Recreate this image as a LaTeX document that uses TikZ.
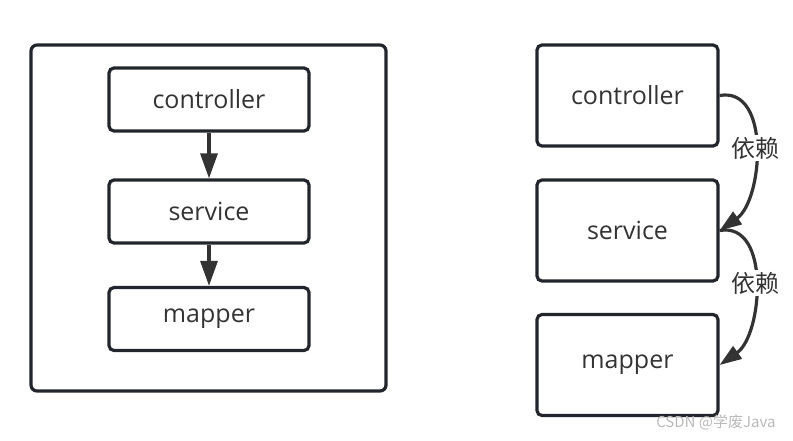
\documentclass[tikz,border=0pt]{standalone}
\usepackage{fontspec}
\setmainfont{Open Sans}
\newfontfamily\cjk{Noto Sans CJK SC}
\usetikzlibrary{arrows.meta}
\definecolor{boxcol}{HTML}{22262C}
\definecolor{txtcol}{HTML}{333333}
\begin{document}
\begin{tikzpicture}[x=1pt,y=-1pt,
	box/.style={draw=boxcol, line width=3.2pt, rounded corners=5pt, inner sep=0pt,
		text=txtcol, font=\fontsize{25}{29}\selectfont},
	smallbox/.style={box, minimum width=200pt, minimum height=63pt},
	bigbox/.style={box, minimum width=181pt, minimum height=101pt},
	flow/.style={draw=txtcol, line width=3.2pt, -{Triangle[length=25pt,width=17pt]}},
	dep/.style={draw=txtcol, line width=3.2pt, -{Triangle[length=22pt,width=15pt]}},
	lbl/.style={fill=white, inner sep=2pt, text=txtcol, font=\cjk\fontsize{24}{28}\selectfont}]
	\useasboundingbox (0,0) rectangle (793,440);
	% Layered Frame %
	\draw [boxcol, line width=3.2pt, rounded corners=6pt] (31,45) rectangle (386,391);
	\node [smallbox] (ctrlA) at (209,99.5) {controller};
	\node [smallbox] (servA) at (209,211.5) {service};
	\node [smallbox] (mapA) at (209,319) {mapper};
	\draw [flow] (ctrlA.south) -- (servA.north);
	\draw [flow] (servA.south) -- (mapA.north);
	% Dependency Chain %
	\node [bigbox] (ctrlB) at (627.5,95.5) {controller};
	\node [bigbox] (servB) at (627.5,230.5) {service};
	\node [bigbox] (mapB) at (627.5,365) {mapper};
	\draw [dep] (ctrlB.east) to [out=10, in=35] node [lbl] {依赖} (servB.east);
	\draw [dep] (servB.east) to [out=10, in=35] node [lbl] {依赖} (mapB.east);
	% Watermark %
	\node [text=gray!55, font=\cjk\fontsize{15}{17}\selectfont, anchor=east] (mark) at (779,422) {CSDN @学废Java};
\end{tikzpicture}
\end{document}
